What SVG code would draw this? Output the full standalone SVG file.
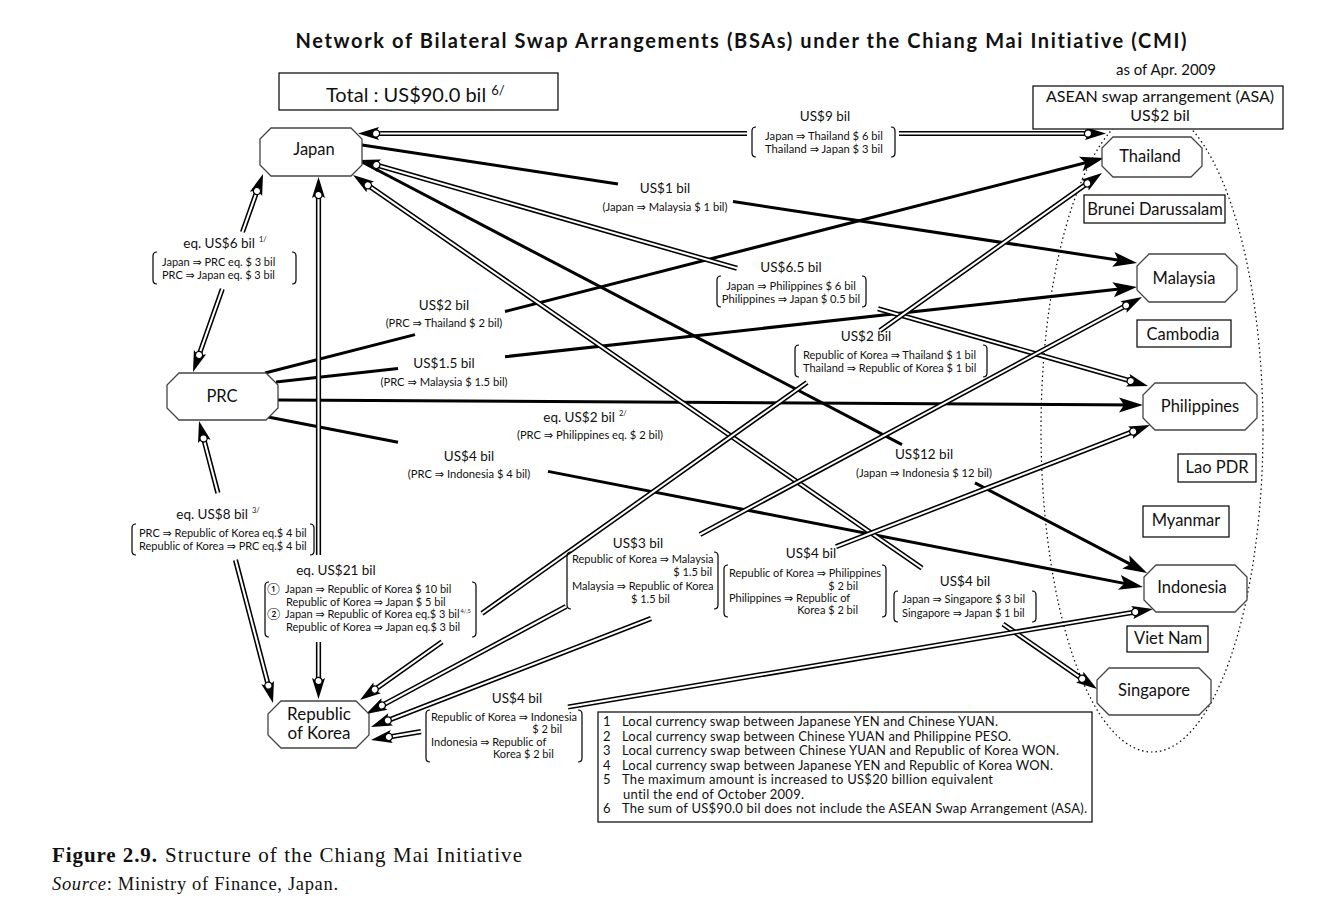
<svg xmlns="http://www.w3.org/2000/svg" width="1327" height="921" viewBox="0 0 1327 921">
<style>
.t{font-family:Lato,"DejaVu Sans","Noto Sans CJK JP",sans-serif;fill:#111;font-variant-ligatures:none}
.n{font-size:16.5px;text-anchor:middle}
.a{font-size:13.5px;text-anchor:middle}
.p{font-size:11.2px;text-anchor:middle}
.l{font-size:11px}
.le{font-size:11px;text-anchor:end}
.sup{font-size:7.5px}
.lg{font-size:13px}
.oct{fill:#fff;stroke:#444;stroke-width:1.3}
.box{fill:#fff;stroke:#000;stroke-width:1.2}
.s1{fill:none;stroke:#000;stroke-width:3;marker-end:url(#sh)}
.d1{fill:none;stroke:#000;stroke-width:5.2}
.d2{fill:none;stroke:#fff;stroke-width:2.1}
.dh{fill:none;stroke:none;marker-start:url(#dh);marker-end:url(#dh)}
.br{fill:none;stroke:#000;stroke-width:1.2}
.cap{font-family:"Liberation Serif","Times New Roman",serif;fill:#111}
</style>
<defs>
<marker id="sh" markerUnits="userSpaceOnUse" viewBox="-20 -10 30 20" markerWidth="30" markerHeight="20" refX="0" refY="0" orient="auto" overflow="visible">
<path d="M6,0 L-18,-7.5 L-13,0 L-18,7.5 Z" fill="#000"/>
</marker>
<marker id="dh" markerUnits="userSpaceOnUse" viewBox="-25 -10 30 20" markerWidth="30" markerHeight="20" refX="0" refY="0" orient="auto-start-reverse" overflow="visible">
<path d="M0,0 L-21,-6.5 L-17,0 L-21,6.5 Z" fill="#000"/>
<circle cx="-18" cy="0" r="3.6" fill="#fff" stroke="#000" stroke-width="1.3"/>
</marker>
</defs>
<rect width="1327" height="921" fill="#fff"/>

<text class="t" x="741" y="48" style="font-weight:700;font-size:20px;text-anchor:middle" textLength="891">Network of Bilateral Swap Arrangements (BSAs) under the Chiang Mai Initiative (CMI)</text>
<text class="t" x="1166" y="75" style="font-size:15px;text-anchor:middle">as of Apr. 2009</text>

<g id="total">
<rect class="box" x="279" y="73" width="279" height="37"/>
<text class="t" x="326" y="102" style="font-size:20px">Total : US$90.0 bil<tspan dx="5" dy="-7" style="font-size:13px">6/</tspan></text>
</g>

<g id="asean-group">
<ellipse cx="1152" cy="430" rx="111" ry="322" fill="none" stroke="#000" stroke-width="1.2" stroke-dasharray="1.5 3"/>
</g>

<g id="connectors">
<path class="s1" d="M362,145 L618,184 M733,201.5 L1131.1,262.1"/>
<path class="s1" d="M362,162 L902,444.7 M975,482.9 L1141.7,570.2"/>
<path class="s1" d="M265,373 L415,334.6 M505,311.5 L1098.2,159.5"/>
<path class="s1" d="M276,382 L398,368.5 M505,356.7 L1131,287.7"/>
<path class="s1" d="M278,400 L1137,405"/>
<path class="s1" d="M268,417 L398,442.3 M548,471.4 L1137.1,585.9"/>

<g id="jp-th"><path class="d1" d="M376,133.5 L747,133.5 M899,133.5 L1088,133.5"/><path class="d2" d="M376,133.5 L747,133.5 M899,133.5 L1088,133.5"/><path class="dh" d="M358,133.5 L1106,133.5"/></g>
<g id="jp-prc"><path class="d1" d="M257,191 L242.5,232 M222.3,289 L199,355"/><path class="d2" d="M257,191 L242.5,232 M222.3,289 L199,355"/><path class="dh" d="M263,174 L193,372"/></g>
<g id="jp-kr"><path class="d1" d="M318.5,195 L318.5,555 M318.5,642 L318.5,681"/><path class="d2" d="M318.5,195 L318.5,555 M318.5,642 L318.5,681"/><path class="dh" d="M318.5,177 L318.5,699"/></g>
<g id="prc-kr"><path class="d1" d="M203.6,438.4 L217.9,493 M235.5,560 L268.4,685.6"/><path class="d2" d="M203.6,438.4 L217.9,493 M235.5,560 L268.4,685.6"/><path class="dh" d="M199,421 L273,703"/></g>
<g id="jp-ph"><path class="d1" d="M376.3,165 L737,268.3 M878,308.7 L1130.7,381"/><path class="d2" d="M376.3,165 L737,268.3 M878,308.7 L1130.7,381"/><path class="dh" d="M359,160 L1148,386"/></g>
<g id="jp-sg"><path class="d1" d="M367.8,185.2 L922,568.1 M1003,624.1 L1082.2,678.8"/><path class="d2" d="M367.8,185.2 L922,568.1 M1003,624.1 L1082.2,678.8"/><path class="dh" d="M353,175 L1097,689"/></g>
<g id="kr-th"><path class="d1" d="M374.7,689.6 L442,641.8 M482,613.4 L807,382.5 M880,330.7 L1087.3,183.4"/><path class="d2" d="M374.7,689.6 L442,641.8 M482,613.4 L807,382.5 M880,330.7 L1087.3,183.4"/><path class="dh" d="M360,700 L1102,173"/></g>
<g id="kr-my"><path class="d1" d="M381.9,705.5 L566,606.5 M700,534.5 L1126.1,305.5"/><path class="d2" d="M381.9,705.5 L566,606.5 M700,534.5 L1126.1,305.5"/><path class="dh" d="M366,714 L1142,297"/></g>
<g id="kr-ph"><path class="d1" d="M387.8,720.5 L651,618.5 M836,546.7 L1133.2,431.5"/><path class="d2" d="M387.8,720.5 L651,618.5 M836,546.7 L1133.2,431.5"/><path class="dh" d="M371,727 L1150,425"/></g>
<g id="kr-id"><path class="d1" d="M388.8,737 L421,731.6 M568,707 L1135.3,612"/><path class="d2" d="M388.8,737 L421,731.6 M568,707 L1135.3,612"/><path class="dh" d="M371,740 L1153,609"/></g>
</g>

<g id="asean-box">
<rect class="box" x="1033" y="86" width="250" height="43"/>
<text class="t" x="1160" y="102" style="font-size:16px;text-anchor:middle">ASEAN swap arrangement (ASA)</text>
<text class="t" x="1160" y="121" style="font-size:16px;text-anchor:middle">US$2 bil</text>
</g>

<g id="japan"><polygon class="oct" points="271,128 351,128 362,139 362,165 351,176 271,176 260,165 260,139"/><text class="t n" x="314" y="155">Japan</text></g>
<g id="prc"><polygon class="oct" points="179,373 266,373 278,385 278,408 266,420 179,420 167,408 167,385"/><text class="t n" x="222" y="402">PRC</text></g>
<g id="korea"><polygon class="oct" points="281,701 356,701 369,714 369,735 356,748 281,748 268,735 268,714"/><text class="t n" x="319" y="720" style="font-size:17px">Republic</text><text class="t n" x="319" y="739" style="font-size:17px">of Korea</text></g>
<g id="thailand"><polygon class="oct" points="1113,137 1191,137 1202,148 1202,166 1191,177 1113,177 1102,166 1102,148"/><text class="t n" x="1150" y="162">Thailand</text></g>
<g id="brunei"><rect class="box" x="1084" y="195" width="141" height="28"/><text class="t n" x="1155" y="215">Brunei Darussalam</text></g>
<g id="malaysia"><polygon class="oct" points="1149,254 1225,254 1237,266 1237,290 1225,302 1149,302 1137,290 1137,266"/><text class="t n" x="1184" y="284">Malaysia</text></g>
<g id="cambodia"><rect class="box" x="1137" y="320" width="94" height="27"/><text class="t n" x="1183" y="340">Cambodia</text></g>
<g id="philippines"><polygon class="oct" points="1155,383 1245,383 1257,395 1257,418 1245,430 1155,430 1143,418 1143,395"/><text class="t n" x="1200" y="412">Philippines</text></g>
<g id="laopdr"><rect class="box" x="1178" y="454" width="78" height="28"/><text class="t n" x="1217" y="473">Lao PDR</text></g>
<g id="myanmar"><rect class="box" x="1143" y="506" width="86" height="31"/><text class="t n" x="1186" y="526">Myanmar</text></g>
<g id="indonesia"><polygon class="oct" points="1156,565 1235,565 1247,577 1247,600 1235,612 1156,612 1144,600 1144,577"/><text class="t n" x="1192" y="593">Indonesia</text></g>
<g id="vietnam"><rect class="box" x="1127" y="626" width="81" height="26"/><text class="t n" x="1168" y="644">Viet Nam</text></g>
<g id="singapore"><polygon class="oct" points="1109,668 1199,668 1211,680 1211,703 1199,715 1109,715 1097,703 1097,680"/><text class="t n" x="1154" y="696">Singapore</text></g>

<g id="edge-labels">
<g id="lbl-jp-th"><text class="t a" x="825" y="121">US$9 bil</text><path class="br" d="M756,127 Q752,127 752,131 L752,153 Q752,157 756,157 M891,127 Q895,127 895,131 L895,153 Q895,157 891,157"/><text class="t p" x="824" y="140">Japan ⇒ Thailand $ 6 bil</text><text class="t p" x="824" y="153">Thailand ⇒ Japan $ 3 bil</text></g>
<g id="lbl-jp-my"><text class="t a" x="665" y="193">US$1 bil</text><text class="t p" x="665" y="211">(Japan ⇒ Malaysia $ 1 bil)</text></g>
<g id="lbl-jp-prc"><text class="t a" x="225" y="248">eq. US$6 bil<tspan class="sup" dx="4" dy="-6">1/</tspan></text><path class="br" d="M157,252 Q153,252 153,256 L153,280 Q153,284 157,284 M292,252 Q296,252 296,256 L296,280 Q296,284 292,284"/><text class="t l" x="162" y="266">Japan ⇒ PRC eq. $ 3 bil</text><text class="t l" x="162" y="279">PRC ⇒ Japan eq. $ 3 bil</text></g>
<g id="lbl-jp-ph"><text class="t a" x="791" y="272">US$6.5 bil</text><path class="br" d="M721,276 Q717,276 717,280 L717,303 Q717,307 721,307 M862,276 Q866,276 866,280 L866,303 Q866,307 862,307"/><text class="t p" x="791" y="290">Japan ⇒ Philippines $ 6 bil</text><text class="t p" x="791" y="303">Philippines ⇒ Japan $ 0.5 bil</text></g>
<g id="lbl-prc-th"><text class="t a" x="444" y="310">US$2 bil</text><text class="t p" x="444" y="327">(PRC ⇒ Thailand $ 2 bil)</text></g>
<g id="lbl-prc-my"><text class="t a" x="444" y="368">US$1.5 bil</text><text class="t p" x="444" y="386">(PRC ⇒ Malaysia $ 1.5 bil)</text></g>
<g id="lbl-prc-ph"><text class="t a" x="585" y="422">eq. US$2 bil<tspan class="sup" dx="4" dy="-6">2/</tspan></text><text class="t p" x="590" y="439">(PRC ⇒ Philippines eq. $ 2 bil)</text></g>
<g id="lbl-prc-id"><text class="t a" x="469" y="461">US$4 bil</text><text class="t p" x="469" y="478">(PRC ⇒ Indonesia $ 4 bil)</text></g>
<g id="lbl-jp-id"><text class="t a" x="924" y="459">US$12 bil</text><text class="t p" x="924" y="477">(Japan ⇒ Indonesia $ 12 bil)</text></g>
<g id="lbl-kr-th"><text class="t a" x="866" y="341">US$2 bil</text><path class="br" d="M799,345 Q795,345 795,349 L795,373 Q795,377 799,377 M983,345 Q987,345 987,349 L987,373 Q987,377 983,377"/><text class="t l" x="803" y="359">Republic of Korea ⇒ Thailand $ 1 bil</text><text class="t l" x="803" y="372">Thailand ⇒ Republic of Korea $ 1 bil</text></g>
<g id="lbl-kr-my"><text class="t a" x="638" y="548">US$3 bil</text><path class="br" d="M571,552 Q567,552 567,556 L567,605 Q567,609 571,609 M714,552 Q718,552 718,556 L718,605 Q718,609 714,609"/><text class="t l" x="572" y="563">Republic of Korea ⇒ Malaysia</text><text class="t le" x="712" y="576">$ 1.5 bil</text><text class="t l" x="572" y="590">Malaysia ⇒ Republic of Korea</text><text class="t l" x="631" y="603">$ 1.5 bil</text></g>
<g id="lbl-kr-ph"><text class="t a" x="811" y="558">US$4 bil</text><path class="br" d="M728,565 Q724,565 724,569 L724,613 Q724,617 728,617 M882,565 Q886,565 886,569 L886,613 Q886,617 882,617"/><text class="t l" x="729" y="577">Republic of Korea ⇒ Philippines</text><text class="t le" x="858" y="590">$ 2 bil</text><text class="t l" x="729" y="602">Philippines ⇒ Republic of</text><text class="t le" x="858" y="614">Korea $ 2 bil</text></g>
<g id="lbl-jp-sg"><text class="t a" x="965" y="586">US$4 bil</text><path class="br" d="M898,591 Q894,591 894,595 L894,618 Q894,622 898,622 M1032,591 Q1036,591 1036,595 L1036,618 Q1036,622 1032,622"/><text class="t l" x="902" y="603">Japan ⇒ Singapore $ 3 bil</text><text class="t l" x="902" y="617">Singapore ⇒ Japan $ 1 bil</text></g>
<g id="lbl-prc-kr"><text class="t a" x="218" y="519">eq. US$8 bil<tspan class="sup" dx="4" dy="-6">3/</tspan></text><path class="br" d="M136,524 Q132,524 132,528 L132,551 Q132,555 136,555 M310,524 Q314,524 314,528 L314,551 Q314,555 310,555"/><text class="t l" x="139" y="537">PRC ⇒ Republic of Korea eq.$ 4 bil</text><text class="t l" x="139" y="550">Republic of Korea ⇒ PRC eq.$ 4 bil</text></g>
<g id="lbl-jp-kr"><text class="t a" x="336" y="575">eq. US$21 bil</text><path class="br" d="M269,582 Q265,582 265,586 L265,633 Q265,637 269,637 M472,582 Q476,582 476,586 L476,633 Q476,637 472,637"/><text class="t l" x="267" y="593" style="font-size:12px">①</text><text class="t l" x="285" y="593">Japan ⇒ Republic of Korea $ 10 bil</text><text class="t l" x="286" y="606">Republic of Korea ⇒ Japan $ 5 bil</text><text class="t l" x="267" y="618" style="font-size:12px">②</text><text class="t l" x="285" y="618">Japan ⇒ Republic of Korea eq.$ 3 bil<tspan class="sup" dx="1" dy="-5" style="font-size:5.5px">4/,5</tspan></text><text class="t l" x="286" y="631">Republic of Korea ⇒ Japan eq.$ 3 bil</text></g>
<g id="lbl-kr-id"><text class="t a" x="517" y="703">US$4 bil</text><path class="br" d="M430,710 Q426,710 426,714 L426,758 Q426,762 430,762 M578,710 Q582,710 582,714 L582,758 Q582,762 578,762"/><text class="t l" x="431" y="721">Republic of Korea ⇒ Indonesia</text><text class="t le" x="562" y="733">$ 2 bil</text><text class="t l" x="431" y="746">Indonesia ⇒ Republic of</text><text class="t l" x="493" y="758">Korea $ 2 bil</text></g>
</g>

<g id="legend">
<rect class="box" x="598" y="712" width="494" height="110"/>
<text class="t lg" x="603" y="726">1</text><text class="t lg" x="622" y="726" textLength="376">Local currency swap between Japanese YEN and Chinese YUAN.</text>
<text class="t lg" x="603" y="741">2</text><text class="t lg" x="622" y="741" textLength="389">Local currency swap between Chinese YUAN and Philippine PESO.</text>
<text class="t lg" x="603" y="755">3</text><text class="t lg" x="622" y="755" textLength="437">Local currency swap between Chinese YUAN and Republic of Korea WON.</text>
<text class="t lg" x="603" y="770">4</text><text class="t lg" x="622" y="770" textLength="431">Local currency swap between Japanese YEN and Republic of Korea WON.</text>
<text class="t lg" x="603" y="784">5</text><text class="t lg" x="622" y="784" textLength="371">The maximum amount is increased to US$20 billion equivalent</text>
<text class="t lg" x="623" y="799" textLength="181">until the end of October 2009.</text>
<text class="t lg" x="603" y="813">6</text><text class="t lg" x="622" y="813" textLength="465">The sum of US$90.0 bil does not include the ASEAN Swap Arrangement (ASA).</text>
</g>

<g id="caption">
<text class="cap" x="52" y="862" style="font-size:21px;font-weight:700" textLength="105">Figure 2.9.</text>
<text class="cap" x="165" y="862" style="font-size:21px" textLength="357">Structure of the Chiang Mai Initiative</text>
<text class="cap" x="52" y="890" style="font-size:18.5px" textLength="286"><tspan style="font-style:italic">Source</tspan>: Ministry of Finance, Japan.</text>
</g>
</svg>
